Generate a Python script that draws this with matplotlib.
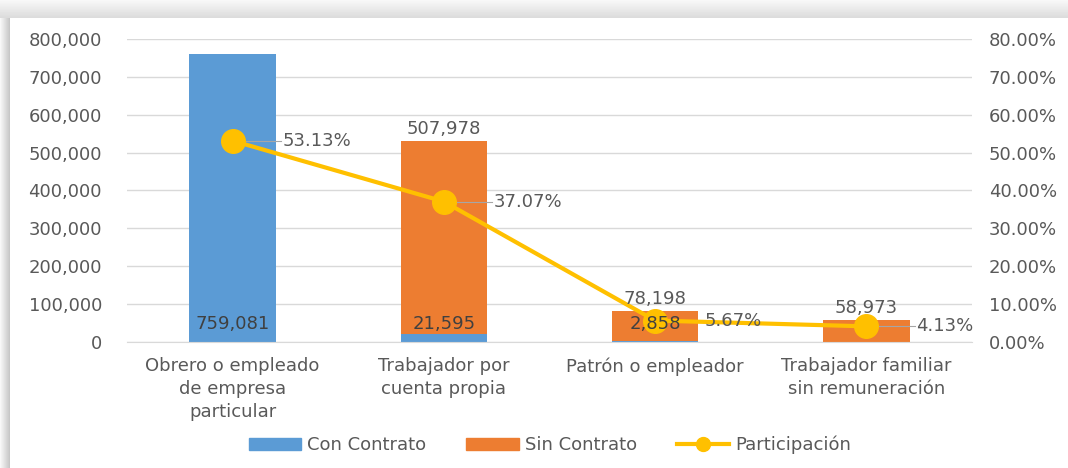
import matplotlib
matplotlib.use("Agg")
import matplotlib.pyplot as plt
import numpy as np
from matplotlib.patches import Rectangle
from matplotlib.lines import Line2D
from matplotlib.ticker import FuncFormatter

categories = ["Obrero o empleado\nde empresa\nparticular", "Trabajador por\ncuenta propia",
              "Patrón o empleador", "Trabajador familiar\nsin remuneración"]
con_contrato = [759081, 21595, 2858, 0]
sin_contrato = [0, 507978, 78198, 58973]
participacion = [53.13, 37.07, 5.67, 4.13]

BLUE = "#5B9BD5"
ORANGE = "#ED7D31"
YELLOW = "#FFC000"
TXT = "#595959"
FS = 13

plt.rcParams['font.family'] = ['DejaVu Sans']

fig = plt.figure(figsize=(10.68, 4.68), dpi=100, facecolor="white")
# card shadow
grad = np.linspace(0.86, 0.97, 18).reshape(-1, 1)
sh_top = fig.add_axes([0, 1-18/468, 1, 18/468], zorder=-5)
sh_top.imshow(np.repeat(grad[::-1], 2, axis=1), cmap="gray", vmin=0, vmax=1, aspect="auto")
sh_top.axis("off")
gradl = np.linspace(0.97, 0.78, 10).reshape(1, -1)
sh_left = fig.add_axes([0, 0, 10/1068, 1-18/468], zorder=-5)
sh_left.imshow(np.repeat(gradl, 2, axis=0), cmap="gray", vmin=0, vmax=1, aspect="auto")
sh_left.axis("off")

ax = fig.add_axes([127/1068, 1-342/468, (972-127)/1068, (342-39)/468])
ax.set_facecolor("white")
x = np.arange(len(categories))
w = 0.41
ax.bar(x, con_contrato, w, color=BLUE, zorder=2, label="Con Contrato")
ax.bar(x, sin_contrato, w, bottom=con_contrato, color=ORANGE, zorder=2, label="Sin Contrato")
ax.set_ylim(0, 800000)
ax.set_xlim(-0.5, 3.5)
ax.set_yticks(np.arange(0, 800001, 100000))
ax.yaxis.set_major_formatter(FuncFormatter(lambda v, p: f"{int(v):,}"))
ax.grid(axis="y", color="#d9d9d9", linewidth=1, zorder=0)
for s in ax.spines.values():
    s.set_visible(False)
ax.spines["bottom"].set_visible(True)
ax.spines["bottom"].set_color("#d9d9d9")
ax.tick_params(axis="both", length=0, labelsize=FS, colors=TXT)
ax.tick_params(axis="y", pad=18)
ax.set_xticks(x)
ax.set_xticklabels(categories, fontsize=FS, color=TXT, linespacing=1.35)
ax.tick_params(axis="x", pad=11)

ax2 = ax.twinx()
ax2.set_ylim(0, 80)
ax2.set_yticks(np.arange(0, 81, 10))
ax2.yaxis.set_major_formatter(FuncFormatter(lambda v, p: f"{v:.2f}%"))
for s in ax2.spines.values():
    s.set_visible(False)
ax2.tick_params(axis="y", length=0, labelsize=FS, colors=TXT, pad=12)
ax2.plot(x, participacion, color=YELLOW, linewidth=3, marker="o", markersize=17, zorder=4)
for i, p in enumerate(participacion):
    ax2.plot([i + 0.06, i + 0.23], [p, p], color="#a6a6a6", linewidth=0.8, zorder=3)
    ax2.text(i + 0.235, p, f"{p:.2f}%", ha="left", va="center", fontsize=FS, color=TXT, zorder=5)

# bar data labels (drawn on top of the line layer)
for i, (c, s) in enumerate(zip(con_contrato, sin_contrato)):
    if c > 0:
        ax2.text(i, 48000, f"{c:,}", ha="center", va="center", fontsize=FS, color="#404040",
                 zorder=6, transform=ax.transData)
    if s > 0:
        ax2.text(i, c + s + 8000, f"{s:,}", ha="center", va="bottom", fontsize=FS, color=TXT,
                 zorder=6, transform=ax.transData)

handles = [Rectangle((0, 0), 1, 1, color=BLUE), Rectangle((0, 0), 1, 1, color=ORANGE),
           Line2D([], [], color=YELLOW, linewidth=3, marker="o", markersize=10)]
fig.legend(handles, ["Con Contrato", "Sin Contrato", "Participación"], loc="center",
           bbox_to_anchor=(550/1068, 1-445/468), ncol=3, frameon=False, fontsize=FS,
           labelcolor=TXT, handlelength=2.9, handleheight=0.6, handletextpad=0.35, columnspacing=2.2)

fig.savefig("out.png", dpi=100, facecolor="white")
